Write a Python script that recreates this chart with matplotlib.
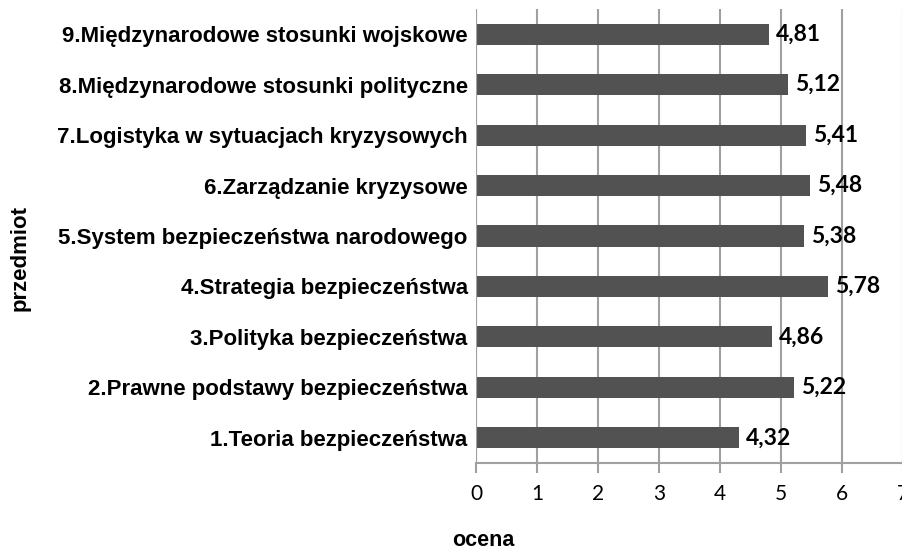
import matplotlib
matplotlib.use("Agg")
import matplotlib.pyplot as plt

categories = [
    "1.Teoria bezpieczeństwa",
    "2.Prawne podstawy bezpieczeństwa",
    "3.Polityka bezpieczeństwa",
    "4.Strategia bezpieczeństwa",
    "5.System bezpieczeństwa narodowego",
    "6.Zarządzanie kryzysowe",
    "7.Logistyka w sytuacjach kryzysowych",
    "8.Międzynarodowe stosunki polityczne",
    "9.Międzynarodowe stosunki wojskowe",
]
values = [4.32, 5.22, 4.86, 5.78, 5.38, 5.48, 5.41, 5.12, 4.81]
xticks = [0, 1, 2, 3, 4, 5, 6, 7]

W, H = 902, 552
fig = plt.figure(figsize=(W / 100, H / 100), dpi=100)
ax = fig.add_axes([476 / W, 1 - 463 / H, (902.5 - 476) / W, (463 - 9) / H])

y = list(range(len(categories)))
ax.barh(y, values, height=0.42, color="#525252", zorder=3)
ax.set_xlim(0, 7)
ax.set_ylim(-0.5, len(categories) - 0.5)
ax.set_xticks(xticks)
ax.set_xticklabels([str(t) for t in xticks], family="Lato", fontsize=15)
ax.set_yticks(y)
ax.set_yticklabels(categories, family="Liberation Sans", fontweight="bold", fontsize=16)
ax.tick_params(axis="y", length=0, pad=6)
ax.tick_params(axis="x", length=7, width=1.5, color="#a0a0a0", pad=8)
ax.grid(axis="x", color="#a0a0a0", linewidth=1.5, zorder=0)
for s in ["top", "right", "left"]:
    ax.spines[s].set_visible(False)
ax.spines["bottom"].set_color("#a0a0a0")
ax.spines["bottom"].set_linewidth(1.5)
ax.axvline(0, color="#a0a0a0", linewidth=1.5, zorder=4)

for yi, v in zip(y, values):
    ax.annotate(f"{v:.2f}".replace(".", ","), xy=(v, yi), xytext=(5, 0),
                textcoords="offset points", va="center", ha="left",
                family="Lato", fontweight="bold", fontsize=16.5, zorder=5)

fig.text(483 / W, 1 - 541 / H, "ocena", ha="center", va="center",
         family="Liberation Sans", fontweight="bold", fontsize=15.5)
fig.text(20 / W, 1 - 258 / H, "przedmiot", ha="center", va="center", rotation=90,
         family="Liberation Sans", fontweight="bold", fontsize=16)

fig.savefig("out.png", dpi=100)
